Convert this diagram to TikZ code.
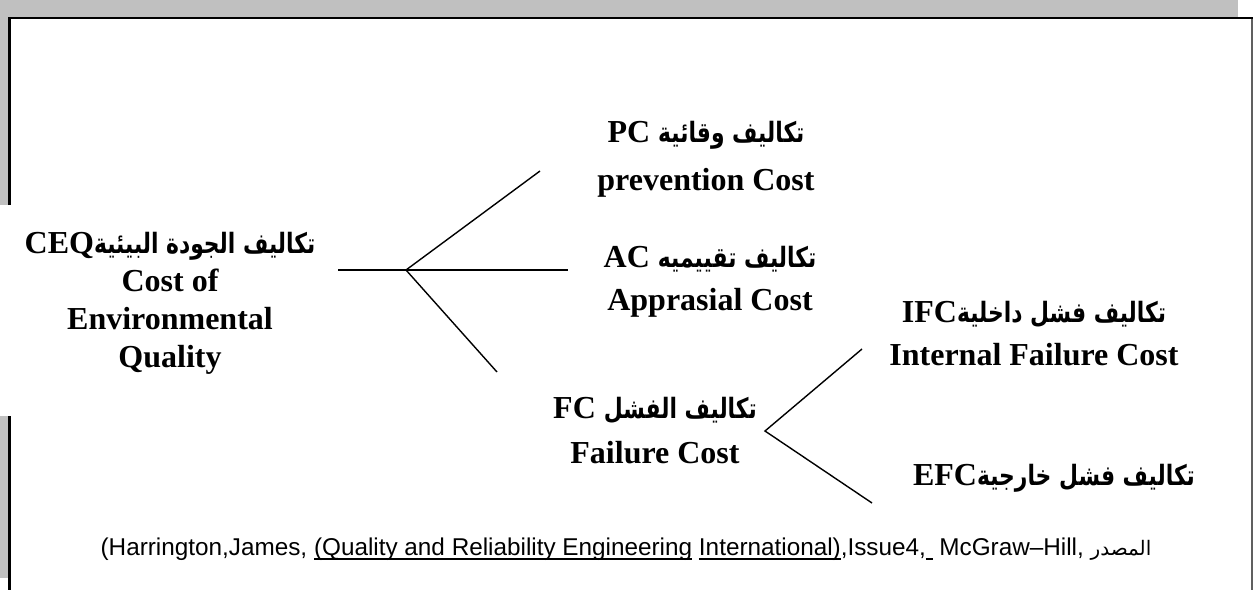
\documentclass[tikz,border=0pt]{standalone}
\usepackage{fontspec}
\setmainfont{Liberation Serif}
\newfontfamily\srcfont{Liberation Sans}
\newfontfamily\arabicfont[Script=Arabic, FakeStretch=0.78]{DejaVu Sans}
\newfontfamily\arabicsrcfont[Script=Arabic]{DejaVu Sans}
\TeXXeTstate=1
% Arabic run inside a bold title line
\newcommand\arabtitle[1]{{\arabicfont\fontsize{28}{38}\selectfont\bfseries\beginR #1\endR}}
% Arabic run inside the source line
\newcommand\arabsrc[1]{{\arabicsrcfont\fontsize{20}{28}\selectfont\beginR #1\endR}}
% heavier underline for the source line
\newcommand\srcul[1]{\leavevmode\setbox0\hbox{#1}\rlap{\rule[-5.2pt]{\wd0}{2pt}}\box0\relax}
\definecolor{framegray}{HTML}{C0C0C0}
\definecolor{edgegray}{HTML}{606060}
\begin{document}
\begin{tikzpicture}[x=1pt,y=-1pt,
  title/.style={align=center, inner sep=0pt,
    font=\fontsize{32}{38}\selectfont\bfseries},
  conn/.style={line width=1.4pt, black},
  source/.style={inner sep=0pt, font=\srcfont\fontsize{24.3}{28}\selectfont}]
\useasboundingbox (0,0) rectangle (1253,590);

% page frame
\fill[framegray] (0,0) rectangle (1238,17);
\fill[framegray] (0,17) rectangle (8,205);
\fill[framegray] (0,416) rectangle (8,578);
\draw[black, line width=2.5pt] (9.3,205) -- (9.3,18.2) -- (1253,18.2);
\draw[black, line width=2.5pt] (9.3,416) -- (9.3,590);
\draw[edgegray, line width=1.5pt] (1252,19) -- (1252,590);

% cost categories
\node[title] (ceq) at (170,303) {CEQ\arabtitle{تكاليف الجودة البيئية}\\Cost of\\Environmental\\Quality};
\node[title, font=\fontsize{32}{48}\selectfont\bfseries] (pc) at (706,159) {PC \arabtitle{تكاليف وقائية}\\prevention Cost};
\node[title, font=\fontsize{32}{43}\selectfont\bfseries] (ac) at (710,282) {AC \arabtitle{تكاليف تقييميه}\\Apprasial Cost};
\node[title, font=\fontsize{32}{45}\selectfont\bfseries] (fc) at (655,431) {FC \arabtitle{تكاليف الفشل}\\Failure Cost};
\node[title, font=\fontsize{32}{43}\selectfont\bfseries] (ifc) at (1034,334) {IFC\arabtitle{تكاليف فشل داخلية}\\Internal Failure Cost};
\node[title] (efc) at (1054,478) {EFC\arabtitle{تكاليف فشل خارجية}};

% branch lines
\coordinate (ceqout) at (338,270);
\coordinate (j1) at (406,270);
\coordinate (pcin) at (540,171);
\coordinate (acin) at (568,270);
\coordinate (fcin) at (497,372);
\coordinate (j2) at (765,431);
\coordinate (ifcin) at (862,349);
\coordinate (efcin) at (872,503);
\draw[conn] (ceqout) -- (j1) -- (acin);
\draw[conn] (pcin) -- (j1) -- (fcin);
\draw[conn] (ifcin) -- (j2) -- (efcin);

% source line
\node[source] (src) at (626,549) {(Harrington,James, \srcul{(Quality and Reliability Engineering} \srcul{International)},Issue4,\srcul{\ } McGraw–Hill, \arabsrc{المصدر}};
\end{tikzpicture}
\end{document}
